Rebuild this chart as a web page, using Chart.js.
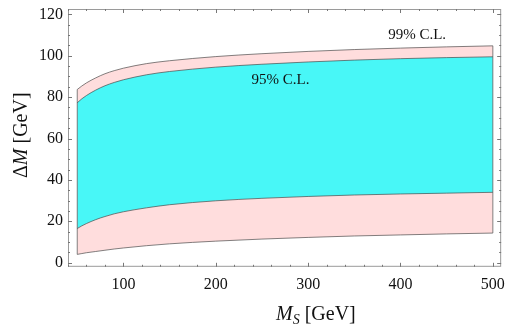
<!DOCTYPE html>
<html>
<head>
<meta charset="utf-8">
<script src="https://cdn.jsdelivr.net/npm/chart.js@4.4.1/dist/chart.umd.min.js"></script>
<style>
    body { margin: 0; background: #fff; }
    canvas { display: block; }
</style>
</head>
<body>
<canvas id="myChart" width="513" height="331"></canvas>
<script>
// M_S values (GeV)
const massS = [50, 55, 60, 70, 80, 90, 100, 125, 150, 200, 250, 300, 350, 400, 450, 500];
// 99% C.L. band
const cl99Low = [4.0, 4.4, 4.8, 5.4, 6.0, 6.6, 7.1, 8.2, 9.1, 10.4, 11.4, 12.2, 12.9, 13.4, 13.9, 14.3];
const cl99High = [83.7, 85.4, 86.9, 89.3, 91.3, 92.8, 94.0, 96.2, 97.6, 99.6, 101.0, 102.1, 103.0, 103.7, 104.3, 104.8];
// 95% C.L. band
const cl95Low = [16.5, 17.8, 18.9, 20.8, 22.3, 23.6, 24.6, 26.5, 28.0, 29.9, 31.1, 32.0, 32.7, 33.2, 33.6, 34.0];
const cl95High = [77.3, 79.2, 80.8, 83.4, 85.5, 87.1, 88.4, 90.8, 92.4, 94.5, 95.9, 97.0, 97.9, 98.6, 99.1, 99.5];

const xTicks = [100, 200, 300, 400, 500];
const yTicks = [0, 20, 40, 60, 80, 100, 120];

const pink = "rgb(255,221,221)";
const cyan = "rgb(72,247,247)";
const edge = "rgba(70,70,70,0.85)";
const serif = "'Liberation Serif', 'DejaVu Serif', serif";

Chart.defaults.font.family = serif;

function pts(ys) {
    return massS.map((x, i) => ({x: x, y: ys[i]}));
}

// frame, inward ticks, band edges, axis titles, CL labels
const decor = {
    id: "decor",
    afterDatasetsDraw(chart) {
        const c = chart.ctx;
        const a = chart.chartArea;
        const xs = chart.scales.x, ys = chart.scales.y;
        c.save();
        // vertical edges of the bands
        c.strokeStyle = edge;
        c.lineWidth = 0.8;
        [0, massS.length - 1].forEach(i => {
            const px = xs.getPixelForValue(massS[i]);
            c.beginPath();
            c.moveTo(px, ys.getPixelForValue(cl99Low[i]));
            c.lineTo(px, ys.getPixelForValue(cl99High[i]));
            c.stroke();
        });
        // frame
        c.strokeStyle = "#9a9a9a";
        c.lineWidth = 1;
        c.strokeRect(a.left + 0.5, a.top + 0.5, a.right - a.left - 1, a.bottom - a.top - 1);
        c.strokeStyle = "#777";
        for (let v = 40; v <= 500; v += 20) {
            const px = Math.round(xs.getPixelForValue(v)) + 0.5;
            const len = v % 100 === 0 ? 4 : 2;
            c.beginPath();
            c.moveTo(px, a.bottom); c.lineTo(px, a.bottom - len);
            c.moveTo(px, a.top); c.lineTo(px, a.top + len);
            c.stroke();
        }
        for (let v = 0; v <= 120; v += 5) {
            const py = Math.round(ys.getPixelForValue(v)) + 0.5;
            const len = v % 20 === 0 ? 4 : 2;
            c.beginPath();
            c.moveTo(a.left, py); c.lineTo(a.left + len, py);
            c.moveTo(a.right, py); c.lineTo(a.right - len, py);
            c.stroke();
        }
        // labels on the bands
        c.fillStyle = "#111";
        c.font = "15px " + serif;
        c.textAlign = "center";
        c.textBaseline = "middle";
        c.fillText("99% C.L.", xs.getPixelForValue(418), ys.getPixelForValue(110.1));
        c.fillText("95% C.L.", xs.getPixelForValue(270), ys.getPixelForValue(88.4));

        // x title: M_S [GeV]
        c.textAlign = "left";
        c.textBaseline = "alphabetic";
        let x0 = 276, y0 = 320;
        c.font = "italic 20px " + serif;
        c.fillText("M", x0, y0);
        x0 += c.measureText("M").width;
        c.font = "italic 14px " + serif;
        c.fillText("S", x0, y0 + 4);
        x0 += c.measureText("S").width + 5;
        c.font = "20px " + serif;
        c.fillText("[GeV]", x0, y0);

        // y title: ΔM [GeV]
        c.translate(27, 178);
        c.rotate(-Math.PI / 2);
        let t = 0;
        c.font = "20px " + serif;
        c.fillText("Δ", t, 0);
        t += c.measureText("Δ").width;
        c.font = "italic 20px " + serif;
        c.fillText("M", t, 0);
        t += c.measureText("M").width + 5;
        c.font = "20px " + serif;
        c.fillText("[GeV]", t, 0);
        c.restore();
    }
};

let ctx = document.getElementById("myChart").getContext("2d");

let myChart = new Chart(ctx, {
    type: "line",
    data: {
        datasets: [
            {data: pts(cl99Low), fill: false, borderColor: edge, borderWidth: 0.8, pointRadius: 0, order: 2},
            {data: pts(cl99High), fill: {target: 0}, backgroundColor: pink, borderColor: edge, borderWidth: 0.8, pointRadius: 0, order: 2},
            {data: pts(cl95Low), fill: false, borderColor: edge, borderWidth: 0.8, pointRadius: 0, order: 1},
            {data: pts(cl95High), fill: {target: 2}, backgroundColor: cyan, borderColor: edge, borderWidth: 0.8, pointRadius: 0, order: 1},
        ],
    },
    options: {
        responsive: false,
        animation: false,
        cubicInterpolationMode: "monotone",
        layout: {padding: {left: 34, right: 8, top: 4, bottom: 29}},
        plugins: {
            legend: {display: false},
            tooltip: {enabled: false},
        },
        scales: {
            x: {
                type: "linear",
                min: 40,
                max: 509,
                grid: {display: false, drawTicks: false},
                border: {display: false},
                afterBuildTicks: s => { s.ticks = xTicks.map(v => ({value: v})); },
                ticks: {color: "#111", font: {family: serif, size: 16}, padding: 8, maxRotation: 0},
            },
            y: {
                min: -2,
                max: 122.6,
                grid: {display: false, drawTicks: false},
                border: {display: false},
                afterBuildTicks: s => { s.ticks = yTicks.map(v => ({value: v})); },
                ticks: {color: "#111", font: {family: serif, size: 16, lineHeight: 0.5}, padding: 5},
            },
        },
    },
    plugins: [decor],
});
</script>
</body>
</html>
